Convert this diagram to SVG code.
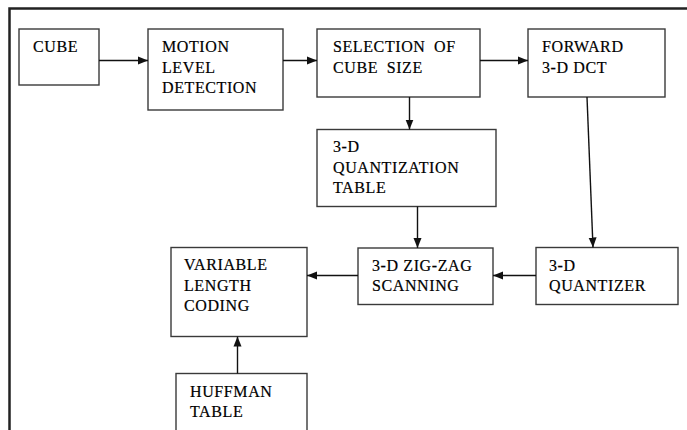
<svg xmlns="http://www.w3.org/2000/svg" width="687" height="430" viewBox="0 0 687 430">
<style>
.box{fill:#fff;stroke:#3a3a3a;stroke-width:1.4}
.t{font-family:"Liberation Serif",serif;font-size:16px;fill:#000;stroke:#000;stroke-width:0.2;letter-spacing:0.6px}
.c{stroke:#111;stroke-width:1.4;fill:none}
</style>
<defs>
<marker id="ah" viewBox="0 0 10 10" refX="10" refY="5" markerWidth="10" markerHeight="10" markerUnits="userSpaceOnUse" orient="auto">
<path d="M0,1 L10,5 L0,9 Z" fill="#111"/>
</marker>
</defs>
<rect width="687" height="430" fill="#fff"/>
<g id="frame">
<path d="M9.5,430 V8.5 H687" fill="none" stroke="#222" stroke-width="2.5"/>
</g>
<g id="cube"><rect class="box" x="19" y="29" width="80" height="56"/><text class="t" x="33" y="52">CUBE</text></g>
<g id="motion"><rect class="box" x="148" y="29" width="135" height="81"/><text class="t" x="162" y="52">MOTION<tspan x="162" y="73">LEVEL</tspan><tspan x="162" y="93">DETECTION</tspan></text></g>
<g id="selection"><rect class="box" x="317" y="29" width="163" height="68"/><text class="t" style="word-spacing:4px" x="333" y="52">SELECTION OF<tspan x="333" y="73">CUBE SIZE</tspan></text></g>
<g id="forward"><rect class="box" x="528" y="29" width="137" height="68"/><text class="t" x="542" y="52">FORWARD<tspan x="542" y="73">3-D DCT</tspan></text></g>
<g id="qtable"><rect class="box" x="317" y="129.5" width="179" height="77"/><text class="t" x="333" y="152">3-D<tspan x="333" y="173">QUANTIZATION</tspan><tspan x="333" y="193">TABLE</tspan></text></g>
<g id="zigzag"><rect class="box" x="358" y="248" width="135" height="56.5"/><text class="t" x="372" y="271">3-D ZIG-ZAG<tspan x="372" y="291">SCANNING</tspan></text></g>
<g id="quantizer"><rect class="box" x="536" y="247.5" width="142" height="57"/><text class="t" x="549" y="271">3-D<tspan x="549" y="291">QUANTIZER</tspan></text></g>
<g id="vlc"><rect class="box" x="171" y="247.5" width="136" height="89"/><text class="t" x="184" y="270">VARIABLE<tspan x="184" y="291">LENGTH</tspan><tspan x="184" y="311">CODING</tspan></text></g>
<g id="huffman"><rect class="box" x="176" y="373.5" width="131" height="70"/><text class="t" x="190" y="397">HUFFMAN<tspan x="190" y="417">TABLE</tspan></text></g>
<g id="connectors">
<line class="c" x1="99" y1="60.5" x2="148" y2="60.5" marker-end="url(#ah)"/>
<line class="c" x1="283" y1="60.5" x2="317" y2="60.5" marker-end="url(#ah)"/>
<line class="c" x1="480" y1="60.5" x2="528" y2="60.5" marker-end="url(#ah)"/>
<line class="c" x1="409.5" y1="97" x2="409.5" y2="129.5" marker-end="url(#ah)"/>
<line class="c" x1="587" y1="97" x2="593" y2="247.5" marker-end="url(#ah)"/>
<line class="c" x1="417.5" y1="206.5" x2="417.5" y2="248" marker-end="url(#ah)"/>
<line class="c" x1="536" y1="275.5" x2="493" y2="275.5" marker-end="url(#ah)"/>
<line class="c" x1="358" y1="275.5" x2="307" y2="275.5" marker-end="url(#ah)"/>
<line class="c" x1="237.5" y1="373.5" x2="237.5" y2="336.5" marker-end="url(#ah)"/>
</g>
</svg>
